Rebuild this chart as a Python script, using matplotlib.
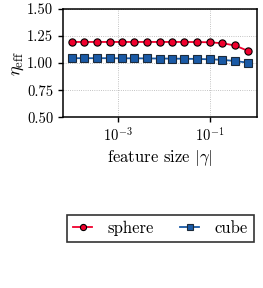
import numpy as np
import matplotlib
matplotlib.use('Agg')
import matplotlib.pyplot as plt

plt.rcParams['font.family'] = 'serif'
plt.rcParams['font.serif'] = ['cmr10', 'DejaVu Serif']
plt.rcParams['mathtext.fontset'] = 'cm'
plt.rcParams['axes.formatter.use_mathtext'] = True
plt.rcParams['axes.unicode_minus'] = False

# feature sizes |gamma|
gamma = [1.0e-4, 1.87e-4, 3.5e-4, 6.6e-4, 1.23e-3, 2.3e-3, 4.3e-3, 8.1e-3,
         1.5e-2, 2.8e-2, 5.3e-2, 1.0e-1, 1.87e-1, 0.35, 0.68]
eta_sphere = [1.195, 1.195, 1.195, 1.195, 1.195, 1.195, 1.195, 1.195,
              1.195, 1.195, 1.194, 1.192, 1.183, 1.163, 1.112]
eta_cube = [1.045, 1.045, 1.045, 1.045, 1.044, 1.044, 1.043, 1.042,
            1.041, 1.040, 1.038, 1.035, 1.030, 1.019, 1.004]

fig = plt.figure(figsize=(2.63, 2.88), dpi=100)
ax = fig.add_axes([0.2395, 0.593, 0.7375, 0.376])

ax.plot(gamma, eta_sphere, '-o', color='#f0002d', mec='black', mew=0.8,
        ms=5.2, lw=1.3, label='sphere')
ax.plot(gamma, eta_cube, '-s', color='#1a5aa6', mec='#1c2a3a', mew=0.8,
        ms=5.2, lw=1.3, label='cube')

ax.set_xscale('log')
ax.set_ylim(0.5, 1.5)
ax.set_yticks([0.5, 0.75, 1.0, 1.25, 1.5])
ax.set_yticklabels(['0.50', '0.75', '1.00', '1.25', '1.50'])
ax.set_xticks([1e-3, 1e-1])
ax.xaxis.set_minor_locator(matplotlib.ticker.NullLocator())
ax.grid(True, ls=':', color='#b0b0b0', lw=0.6)
for s in ax.spines.values():
    s.set_linewidth(1.1)
ax.tick_params(labelsize=10.5, width=1.0, length=3.5)
ax.set_ylabel(r'$\eta_{\mathrm{eff}}$', fontsize=13, labelpad=1)
ax.set_xlabel(r'feature size $|\gamma|$', fontsize=12, labelpad=2)

leg = fig.legend(loc='center', bbox_to_anchor=(0.61, 0.207), ncol=2,
                 fancybox=False, edgecolor='black', fontsize=12,
                 handlelength=1.15, handletextpad=0.9, columnspacing=1.6,
                 borderpad=0.35, markerscale=0.85)
leg.get_frame().set_linewidth(1.2)

fig.savefig('out.png', dpi=100)
